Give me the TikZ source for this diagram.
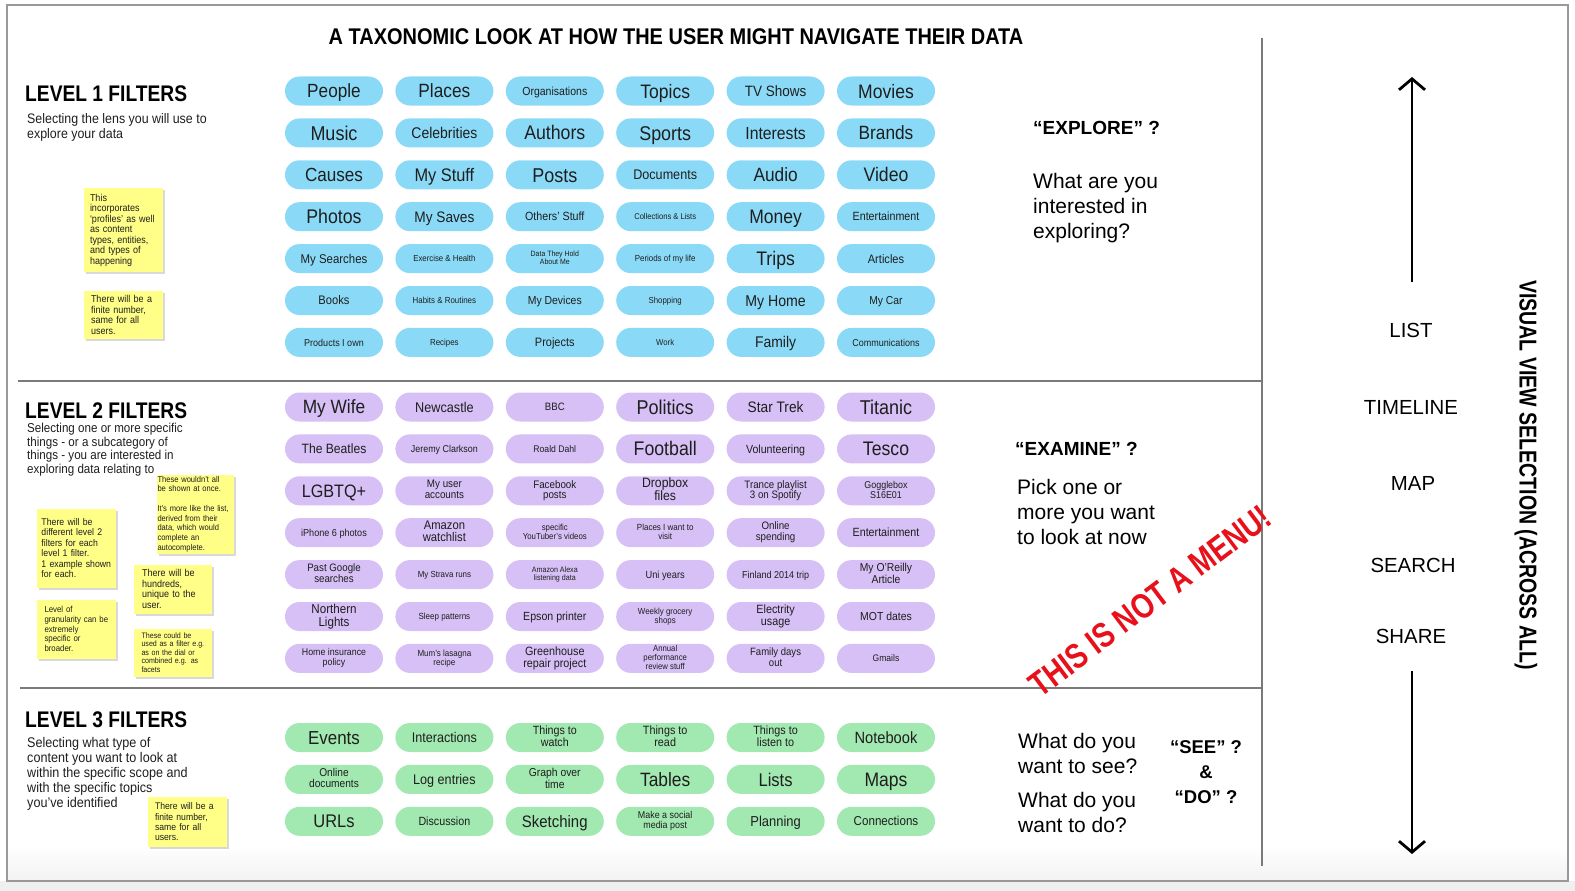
\documentclass[tikz,border=0pt]{standalone}
\usepackage{fontspec}
\setmainfont{Liberation Sans}
\newfontfamily\pillfont[FakeStretch=0.9]{Liberation Sans}
\newfontfamily\condfont[FakeStretch=0.8]{Liberation Sans}
\newfontfamily\headfont[FakeStretch=0.85]{Liberation Sans}
\newfontfamily\titlefont[FakeStretch=0.88]{Liberation Sans}
\usepackage{tikz}
\usetikzlibrary{arrows.meta,positioning,shadows}
\definecolor{pillone}{HTML}{8ADAF7}
\definecolor{pilltwo}{HTML}{D6C0F5}
\definecolor{pillthree}{HTML}{A2E8B1}
\definecolor{sticky}{HTML}{FFFF88}
\definecolor{ink}{HTML}{1E1E1E}
\definecolor{rule}{HTML}{7A7A7A}
\definecolor{stampred}{HTML}{E8101A}
\newcommand\pillstrut{\rule[-.23\baselineskip]{0pt}{1.18\baselineskip}}

\begin{document}
\begin{tikzpicture}[
    x=1pt,y=-1pt,
    node distance={12.5pt and 12pt},
    pill/.style={rounded corners=14.5pt,minimum width=98pt,minimum height=29pt,inner sep=1pt,align=center,text=ink,
      execute at begin node=\pillstrut,execute at end node=\pillstrut},
    one/.style={pill,fill=pillone},
    two/.style={pill,fill=pilltwo},
    three/.style={pill,fill=pillthree},
    fs/.style={font={\pillfont\fontsize{#1}{#1}\selectfont}},
    note/.style={fill=sticky,inner sep=0pt,align=left,text=ink,drop shadow={shadow xshift=2pt,shadow yshift=-2pt,opacity=.3}},
    nfs/.style 2 args={font={\pillfont\fontsize{#1}{#2}\selectfont}},
    lvlhead/.style={anchor=base west,inner sep=0pt,font=\headfont\bfseries\fontsize{22.6}{24}\selectfont},
    lvlsub/.style={anchor=north west,inner sep=0pt,align=left,text=ink},
    bigq/.style={anchor=base west,inner sep=0pt,font=\bfseries\fontsize{19}{25}\selectfont},
    ask/.style={anchor=north west,inner sep=0pt,align=left,font=\fontsize{21}{25}\selectfont},
    viewlbl/.style={inner sep=0pt,font=\fontsize{20.4}{24}\selectfont},
    stampbox/.style={inner sep=0pt,text=stampred,font=\condfont\bfseries\fontsize{35}{38}\selectfont},
    sepline/.style={draw=rule,line width=1.2pt},
    bigarrow/.style={line width=2.8pt,-{Straight Barb[length=11pt,width=26pt]}}
  ]
  \useasboundingbox (0,0) rectangle (1575,891);
  \shade[top color=white,bottom color=black!5] (8,845) rectangle (1567,880);
  \fill[black!6] (0,881) rectangle (1575,891);
  \draw[black!40,line width=1.3pt] (7,5) rectangle (1568,881);

  \node[font=\titlefont\bfseries\fontsize{22.7}{26}\selectfont,inner sep=0pt] (title) at (676,37) {A TAXONOMIC LOOK AT HOW THE USER MIGHT NAVIGATE THEIR DATA};

  \draw[sepline] (1262,38) -- (1262,866);
  \draw[sepline] (18,381) -- (1262,381);
  \draw[sepline] (20,688) -- (1262,688);

  % level 1
  \node[lvlhead] (lvlone) at (25,101) {LEVEL 1 FILTERS};
  \node[lvlsub,nfs={13.8}{15}] (lvlonesub) at (27,113) {Selecting the lens you will use to\\explore your data};
  \node[note,nfs={10}{10.5},minimum width=79pt,minimum height=84pt,text width=67pt] (noteprofiles) at (123.5,230) {This\\incorporates\\‘profiles’ as well\\as content\\types, entities,\\and types of\\happening};
  \node[note,nfs={10}{10.5},minimum width=79pt,minimum height=48pt,text width=65pt] (notefinite) at (123.5,315) {There will be a\\finite number,\\same for all\\users.};

  \node[one,fs=19.1] (people) at (334,91) {People};
  \node[one,fs=19.2,right=of people] (places) {Places};
  \node[one,fs=11.7,right=of places] (orgs) {Organisations};
  \node[one,fs=19.5,right=of orgs] (topics) {Topics};
  \node[one,fs=15,right=of topics] (tvshows) {TV Shows};
  \node[one,fs=19.5,right=of tvshows] (movies) {Movies};

  \node[one,fs=20,below=of people] (music) {Music};
  \node[one,fs=15.5,right=of music] (celebs) {Celebrities};
  \node[one,fs=19.7,right=of celebs] (authors) {Authors};
  \node[one,fs=19.9,right=of authors] (sports) {Sports};
  \node[one,fs=17.5,right=of sports] (interests) {Interests};
  \node[one,fs=19.2,right=of interests] (brands) {Brands};

  \node[one,fs=19,below=of music] (causes) {Causes};
  \node[one,fs=18.2,right=of causes] (mystuff) {My Stuff};
  \node[one,fs=20,right=of mystuff] (posts) {Posts};
  \node[one,fs=14,right=of posts] (docs) {Documents};
  \node[one,fs=19.2,right=of docs] (audio) {Audio};
  \node[one,fs=19.6,right=of audio] (video) {Video};

  \node[one,fs=19.7,below=of causes] (photos) {Photos};
  \node[one,fs=15.2,right=of photos] (mysaves) {My Saves};
  \node[one,fs=11.9,right=of mysaves] (others) {Others’ Stuff};
  \node[one,fs=8.4,right=of others] (collections) {Collections \& Lists};
  \node[one,fs=19.5,right=of collections] (money) {Money};
  \node[one,fs=11.9,right=of money] (entone) {Entertainment};

  \node[one,fs=12.7,below=of photos] (searches) {My Searches};
  \node[one,fs=8.7,right=of searches] (exercise) {Exercise \& Health};
  \node[one,fs=7.7,right=of exercise] (theyhold) {Data They Hold\\About Me};
  \node[one,fs=8.8,right=of theyhold] (periods) {Periods of my life};
  \node[one,fs=19.6,right=of periods] (trips) {Trips};
  \node[one,fs=12.3,right=of trips] (articles) {Articles};

  \node[one,fs=12.4,below=of searches] (books) {Books};
  \node[one,fs=8.8,right=of books] (habits) {Habits \& Routines};
  \node[one,fs=11.6,right=of habits] (devices) {My Devices};
  \node[one,fs=8.7,right=of devices] (shopping) {Shopping};
  \node[one,fs=15.7,right=of shopping] (myhome) {My Home};
  \node[one,fs=11.5,right=of myhome] (mycar) {My Car};

  \node[one,fs=10,below=of books] (products) {Products I own};
  \node[one,fs=8.8,right=of products] (recipes) {Recipes};
  \node[one,fs=12.2,right=of recipes] (projects) {Projects};
  \node[one,fs=8.6,right=of projects] (work) {Work};
  \node[one,fs=15.5,right=of work] (family) {Family};
  \node[one,fs=10,right=of family] (comms) {Communications};

  % level 2
  \node[lvlhead] (lvltwo) at (25,418) {LEVEL 2 FILTERS};
  \node[lvlsub,nfs={12.9}{13.7}] (lvltwosub) at (27,423) {Selecting one or more specific\\things - or a subcategory of\\things - you are interested in\\exploring data relating to};
  \node[note,nfs={8.4}{9.7},minimum width=77pt,minimum height=79pt,text width=75pt] (noteonce) at (195,514) {These wouldn’t all\\be shown at once.\\[9.7pt]It’s more like the list,\\derived from their\\data, which would\\complete an\\autocomplete.};
  \node[note,nfs={9.7}{10.4},minimum width=79pt,minimum height=79pt,text width=70pt] (noteeach) at (76.5,548) {There will be\\different level 2\\filters for each\\level 1 filter.\\1 example shown\\for each.};
  \node[note,nfs={10}{10.5},minimum width=78pt,minimum height=49pt,text width=62pt] (notehundreds) at (173,589) {There will be\\hundreds,\\unique to the\\user.};
  \node[note,nfs={8.7}{9.7},minimum width=79pt,minimum height=59pt,text width=64pt] (notegrain) at (76.5,629) {Level of\\granularity can be\\extremely\\specific or\\broader.};
  \node[note,nfs={7.9}{8.6},minimum width=78pt,minimum height=48pt,text width=63pt] (notefacets) at (173,652.5) {These could be\\used as a filter e.g.\\as on the dial or\\combined e.g. as\\facets};

  \node[two,fs=19.2] (mywife) at (334,407) {My Wife};
  \node[two,fs=14.1,right=of mywife] (newcastle) {Newcastle};
  \node[two,fs=10.7,right=of newcastle] (bbc) {BBC};
  \node[two,fs=20,right=of bbc] (politics) {Politics};
  \node[two,fs=15.2,right=of politics] (startrek) {Star Trek};
  \node[two,fs=20,right=of startrek] (titanic) {Titanic};

  \node[two,fs=13.5,below=of mywife] (beatles) {The Beatles};
  \node[two,fs=9.9,right=of beatles] (clarkson) {Jeremy Clarkson};
  \node[two,fs=9.6,right=of clarkson] (dahl) {Roald Dahl};
  \node[two,fs=19.7,right=of dahl] (football) {Football};
  \node[two,fs=11.8,right=of football] (volunteer) {Volunteering};
  \node[two,fs=19.6,right=of volunteer] (tesco) {Tesco};

  \node[two,fs=18,below=of beatles] (lgbtq) {LGBTQ+};
  \node[two,fs=10.9,right=of lgbtq] (accounts) {My user\\accounts};
  \node[two,fs=10.9,right=of accounts] (fbposts) {Facebook\\posts};
  \node[two,fs=13.6,right=of fbposts] (dropbox) {Dropbox\\files};
  \node[two,fs=10.8,right=of dropbox] (trance) {Trance playlist\\3 on Spotify};
  \node[two,fs=9.9,right=of trance] (gogglebox) {Gogglebox\\S16E01};

  \node[two,fs=10.1,below=of lgbtq] (iphone) {iPhone 6 photos};
  \node[two,fs=12.5,right=of iphone] (watchlist) {Amazon\\watchlist};
  \node[two,fs=8.7,right=of watchlist] (youtuber) {specific\\YouTuber’s videos};
  \node[two,fs=8.9,right=of youtuber] (placesvisit) {Places I want to\\visit};
  \node[two,fs=10.8,right=of placesvisit] (spending) {Online\\spending};
  \node[two,fs=11.9,right=of spending] (enttwo) {Entertainment};

  \node[two,fs=10.8,below=of iphone] (google) {Past Google\\searches};
  \node[two,fs=8.8,right=of google] (strava) {My Strava runs};
  \node[two,fs=7.9,right=of strava] (alexa) {Amazon Alexa\\listening data};
  \node[two,fs=10.3,right=of alexa] (uni) {Uni years};
  \node[two,fs=10,right=of uni] (finland) {Finland 2014 trip};
  \node[two,fs=11.5,right=of finland] (oreilly) {My O’Reilly\\Article};

  \node[two,fs=12.9,below=of google] (northern) {Northern\\Lights};
  \node[two,fs=8.9,right=of northern] (sleep) {Sleep patterns};
  \node[two,fs=11.8,right=of sleep] (epson) {Epson printer};
  \node[two,fs=8.8,right=of epson] (grocery) {Weekly grocery\\shops};
  \node[two,fs=12,right=of grocery] (electricity) {Electrity\\usage};
  \node[two,fs=11.6,right=of electricity] (mot) {MOT dates};

  \node[two,fs=9.8,below=of northern] (insurance) {Home insurance\\policy};
  \node[two,fs=8.9,right=of insurance] (lasagna) {Mum’s lasagna\\recipe};
  \node[two,fs=12,right=of lasagna] (greenhouse) {Greenhouse\\repair project};
  \node[two,fs=8.6,right=of greenhouse] (appraisal) {Annual\\performance\\review stuff};
  \node[two,fs=10.6,right=of appraisal] (familydays) {Family days\\out};
  \node[two,fs=9.5,right=of familydays] (gmails) {Gmails};

  % level 3
  \node[lvlhead] (lvlthree) at (25,727) {LEVEL 3 FILTERS};
  \node[lvlsub,nfs={14}{15}] (lvlthreesub) at (27,737) {Selecting what type of\\content you want to look at\\within the specific scope and\\with the specific topics\\you’ve identified};
  \node[note,nfs={9.6}{10.3},minimum width=79pt,minimum height=50pt,text width=65pt] (notesame) at (187.5,822) {There will be a\\finite number,\\same for all\\users.};

  \node[three,fs=18.8] (events) at (334,737.5) {Events};
  \node[three,fs=14,right=of events] (interactions) {Interactions};
  \node[three,fs=11.9,right=of interactions] (towatch) {Things to\\watch};
  \node[three,fs=12,right=of towatch] (toread) {Things to\\read};
  \node[three,fs=12,right=of toread] (tolisten) {Things to\\listen to};
  \node[three,fs=16.3,right=of tolisten] (notebook) {Notebook};

  \node[three,fs=11.3,below=of events] (onlinedocs) {Online\\documents};
  \node[three,fs=14,right=of onlinedocs] (logs) {Log entries};
  \node[three,fs=11.5,right=of logs] (graph) {Graph over\\time};
  \node[three,fs=19.3,right=of graph] (tables) {Tables};
  \node[three,fs=18.4,right=of tables] (lists) {Lists};
  \node[three,fs=19.5,right=of lists] (maps) {Maps};

  \node[three,fs=18.3,below=of onlinedocs] (urls) {URLs};
  \node[three,fs=11.9,right=of urls] (discussion) {Discussion};
  \node[three,fs=16.6,right=of discussion] (sketching) {Sketching};
  \node[three,fs=9.9,right=of sketching] (socialpost) {Make a social\\media post};
  \node[three,fs=14.4,right=of socialpost] (planning) {Planning};
  \node[three,fs=12.9,right=of planning] (connections) {Connections};

  % questions
  \node[bigq] (explore) at (1033,134) {“EXPLORE” ?};
  \node[ask] (exploreq) at (1033,173) {What are you\\interested in\\exploring?};
  \node[bigq] (examine) at (1015,455) {“EXAMINE” ?};
  \node[ask] (examineq) at (1017,479) {Pick one or\\more you want\\to look at now};
  \node[stampbox,rotate=37] (notmenu) at (1150,601) {THIS IS NOT A MENU!};
  \node[ask] (seeq) at (1018,733) {What do you\\want to see?};
  \node[ask] (doq) at (1018,792) {What do you\\want to do?};
  \node[inner sep=0pt,align=center,font=\bfseries\fontsize{18.5}{25}\selectfont] (seedo) at (1206,772) {“SEE” ?\\\&\\“DO” ?};

  % views
  \node[viewlbl] (list) at (1411,330) {LIST};
  \node[viewlbl] (timeline) at (1411,407) {TIMELINE};
  \node[viewlbl] (map) at (1413,483) {MAP};
  \node[viewlbl] (search) at (1413,565) {SEARCH};
  \node[viewlbl] (share) at (1411,636) {SHARE};
  \coordinate (upfoot) at (1412,282);
  \coordinate (uptip) at (1412,77);
  \coordinate (downtop) at (1412,671);
  \coordinate (downtip) at (1412,854);
  \draw[bigarrow] (upfoot) -- (uptip);
  \draw[bigarrow] (downtop) -- (downtip);
  \node[rotate=-90,inner sep=0pt,font=\condfont\bfseries\fontsize{24.4}{26}\selectfont] (viewsel) at (1526,475) {VISUAL VIEW SELECTION (ACROSS ALL)};
\end{tikzpicture}
\end{document}
